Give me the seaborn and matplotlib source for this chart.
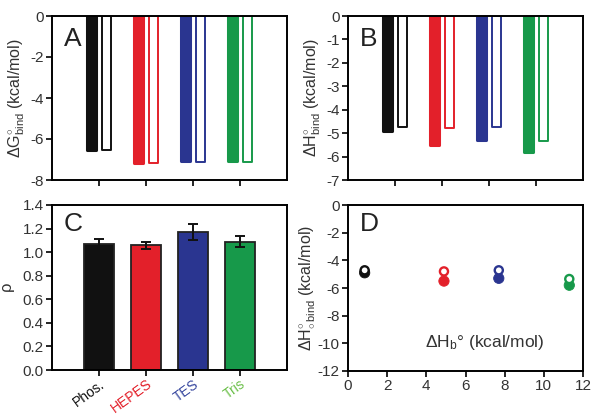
import numpy as np
import pandas as pd
import matplotlib
matplotlib.use("Agg")
import matplotlib.pyplot as plt
import seaborn as sns

sns.set_theme(style="white")
plt.rcParams['font.family'] = ['Liberation Sans', 'DejaVu Sans']
plt.rcParams['mathtext.fontset'] = 'custom'
plt.rcParams['mathtext.rm'] = 'Liberation Sans'
plt.rcParams['mathtext.it'] = 'Liberation Sans'

buffers = ["Phos.", "HEPES", "TES", "Tris"]
colors = ["#111111", "#e3202a", "#2a3590", "#17994a"]
label_colors = ["#111111", "#e3202a", "#3a4aa0", "#6cc04a"]

dG_filled = [-6.55, -7.15, -7.05, -7.07]
dG_open = [-6.55, -7.18, -7.10, -7.10]
dH_filled = [-4.90, -5.50, -5.30, -5.80]
dH_open = [-4.72, -4.80, -4.72, -5.35]
rho = [1.07, 1.06, 1.17, 1.09]
rho_err = [0.04, 0.03, 0.07, 0.05]
dHb = [0.85, 4.9, 7.7, 11.3]

W, H = 601, 417
fig = plt.figure(figsize=(W / 100, H / 100), dpi=100)

def axes_px(l, t, r, b):
    return fig.add_axes([l / W, 1 - b / H, (r - l) / W, (b - t) / H])

axA = axes_px(52, 16, 287, 180)
axB = axes_px(348, 16, 583, 180)
axC = axes_px(52, 205, 287, 370)
axD = axes_px(348, 205, 583, 371)

tick_color = "#333333"
fs = 11

def style_axes(ax):
    for s in ax.spines.values():
        s.set_visible(True)
        s.set_color("black")
        s.set_linewidth(1.4)
    ax.tick_params(direction="out", length=4, width=1.2, color="black",
                   labelsize=fs, labelcolor=tick_color, bottom=True, left=True,
                   pad=2)

def paired_bars(ax, filled, opened):
    df = pd.DataFrame({
        "buffer": buffers * 2,
        "value": list(filled) + list(opened),
        "kind": ["filled"] * 4 + ["open"] * 4,
    })
    sns.barplot(data=df, x="buffer", y="value", hue="kind", ax=ax,
                width=0.64, gap=0.34, errorbar=None, legend=False)
    for ci, cont in enumerate(ax.containers):
        for bi, patch in enumerate(cont.patches):
            c = colors[bi]
            if ci == 0:
                patch.set_facecolor(c)
                patch.set_edgecolor(c)
                patch.set_linewidth(2.2)
            else:
                patch.set_facecolor("white")
                patch.set_edgecolor(c)
                patch.set_linewidth(1.4)
            patch.set_joinstyle("round")
    ax.set_xlim(-1, 4)
    ax.set_xticks(range(4))
    ax.set_xticklabels([])
    ax.set_xlabel("")

# Panel A
paired_bars(axA, dG_filled, dG_open)
axA.set_ylim(-8, 0)
axA.set_yticks([0, -2, -4, -6, -8])
axA.set_yticklabels(["0", "-2", "-4", "-6", "-8"])
axA.set_ylabel(r"$\Delta$G$^{\circ}_{\mathrm{bind}}$ (kcal/mol)", fontsize=11.5,
               color=tick_color, labelpad=2)
style_axes(axA)
axA.text(0.05, 0.93, "A", transform=axA.transAxes, fontsize=19, va="top",
         color="#222222")

# Panel B
paired_bars(axB, dH_filled, dH_open)
axB.set_ylim(-7, 0)
axB.set_yticks(list(range(0, -8, -1)))
axB.set_yticklabels([str(v) for v in range(0, -8, -1)])
axB.set_ylabel(r"$\Delta$H$^{\circ}_{\mathrm{bind}}$ (kcal/mol)", fontsize=11.5,
               color=tick_color, labelpad=2)
style_axes(axB)
axB.text(0.05, 0.93, "B", transform=axB.transAxes, fontsize=19, va="top",
         color="#222222")

# Panel C
dfC = pd.DataFrame({"buffer": buffers, "rho": rho})
sns.barplot(data=dfC, x="buffer", y="rho", hue="buffer", palette=colors,
            ax=axC, width=0.63, errorbar=None, legend=False, saturation=1,
            edgecolor="#222222", linewidth=1.3)
axC.errorbar(x=np.arange(4), y=rho, yerr=rho_err, fmt="none",
             ecolor="#111111", elinewidth=1.4, capsize=3.5, capthick=1.4)
axC.set_xlim(-1, 4)
axC.set_ylim(0, 1.4)
axC.set_yticks(np.round(np.arange(0, 1.41, 0.2), 1))
axC.set_yticklabels([f"{v:.1f}" for v in np.arange(0, 1.41, 0.2)])
axC.set_xlabel("")
axC.set_ylabel(r"$\rho$", fontsize=12, color=tick_color, labelpad=4)
style_axes(axC)
axC.set_xticks(range(4))
axC.set_xticklabels(buffers, rotation=36, ha="right", rotation_mode="anchor",
                    fontsize=10)
axC.tick_params(axis="x", pad=1)
for lbl, c in zip(axC.get_xticklabels(), label_colors):
    lbl.set_color(c)
axC.text(0.05, 0.96, "C", transform=axC.transAxes, fontsize=19, va="top",
         color="#222222")

# Panel D
dfD = pd.DataFrame({"buffer": buffers, "dHb": dHb,
                    "filled": dH_filled, "open": dH_open})
sns.scatterplot(data=dfD, x="dHb", y="filled", hue="buffer", palette=colors,
                ax=axD, s=55, edgecolor=None, legend=False, zorder=3)
sns.scatterplot(data=dfD, x="dHb", y="open", ax=axD, s=34, facecolor="white",
                edgecolor=colors, linewidth=1.7, legend=False, zorder=4)
axD.set_xlim(0, 12)
axD.set_ylim(-12, 0)
axD.set_xticks(range(0, 13, 2))
axD.set_yticks(range(0, -13, -2))
axD.set_yticklabels([str(v) for v in range(0, -13, -2)])
axD.set_xlabel("")
axD.set_ylabel(r"$\Delta$H$^{\circ}_{\circ\,\mathrm{bind}}$ (kcal/mol)",
               fontsize=11.5, color=tick_color, labelpad=0)
style_axes(axD)
axD.text(0.05, 0.96, "D", transform=axD.transAxes, fontsize=19, va="top",
         color="#222222")
axD.text(0.58, 0.17, r"$\Delta$H$_{\mathrm{b}}$° (kcal/mol)", transform=axD.transAxes,
         fontsize=12.5, ha="center", va="center", color=tick_color)

fig.savefig("out.png", dpi=100)
